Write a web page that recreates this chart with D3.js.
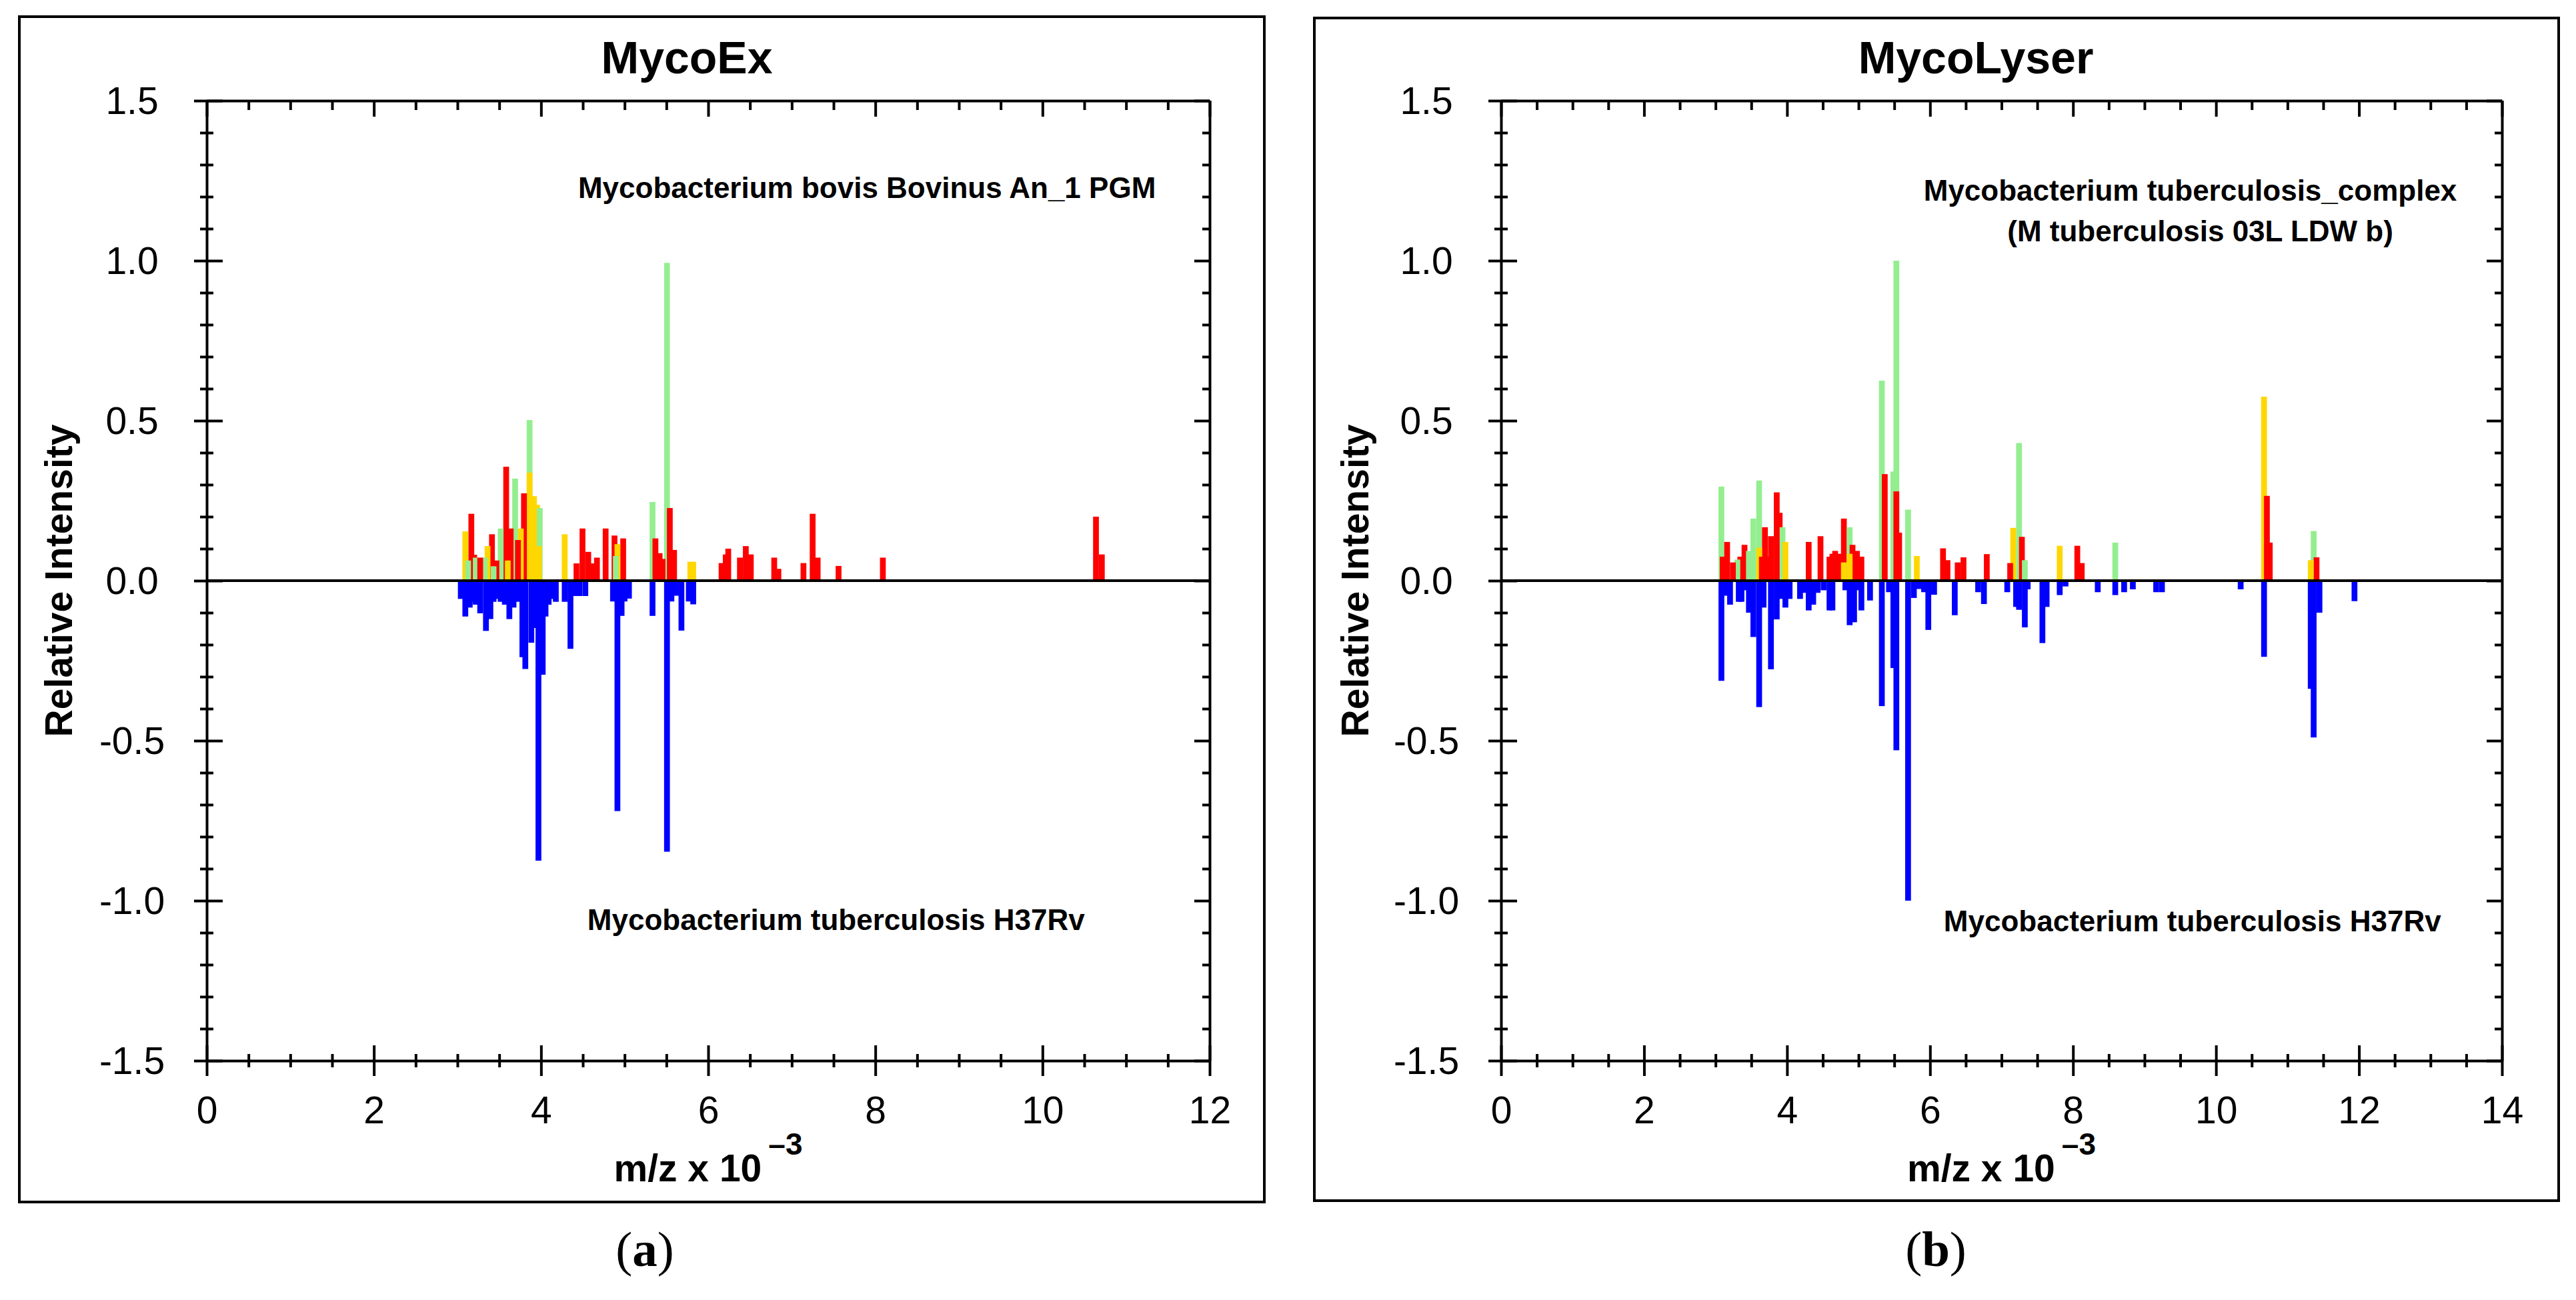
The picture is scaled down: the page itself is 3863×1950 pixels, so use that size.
<!DOCTYPE html>
<html>
<head>
<meta charset="utf-8">
<script src="https://cdnjs.cloudflare.com/ajax/libs/d3/7.8.5/d3.min.js"></script>
<style>
body { margin: 0; background: #fff; }
svg { display: block; }
</style>
</head>
<body>
<svg id="chart" width="3863" height="1950"></svg>
<script>
// ---- DATA: [m/z x 10^-3, relative intensity] ----
// (a) MycoEx : Mycobacterium bovis Bovinus An_1 PGM (up) vs M. tuberculosis H37Rv (down)
var exGreen = [[3.128,0.063],[3.219,0.072],[3.325,0.072],[3.432,0.045],[3.517,0.163],[3.690,0.319],
  [3.863,0.502],[3.985,0.227],[4.895,0.077],[5.334,0.246],[5.507,0.993]];
var exYellow = [[3.094,0.154],[3.360,0.108],[3.602,0.063],[3.758,0.163],[3.863,0.338],[3.916,0.264],
  [3.953,0.237],[3.975,0.108],[4.283,0.145],[4.914,0.114],[5.786,0.059],[5.821,0.059]];
var exRed = [[3.166,0.209],[3.200,0.081],[3.272,0.072],[3.413,0.145],[3.466,0.063],[3.583,0.356],
  [3.637,0.163],[3.724,0.127],[3.796,0.273],[4.424,0.054],[4.496,0.163],[4.565,0.090],[4.618,0.054],
  [4.669,0.072],[4.773,0.163],[4.879,0.141],[4.983,0.132],[5.369,0.132],[5.419,0.086],[5.454,0.068],
  [5.541,0.227],[5.592,0.096],[6.160,0.055],[6.210,0.082],[6.240,0.100],[6.380,0.072],[6.450,0.108],
  [6.510,0.082],[6.790,0.072],[6.840,0.037],[7.140,0.055],[7.250,0.209],[7.310,0.072],[7.560,0.046],
  [8.090,0.072],[10.640,0.200],[10.710,0.082]];
var exBlue = [[3.040,-0.057],[3.094,-0.112],[3.147,-0.084],[3.182,-0.066],[3.219,-0.075],[3.272,-0.102],
  [3.341,-0.157],[3.394,-0.120],[3.432,-0.066],[3.466,-0.057],[3.517,-0.066],[3.567,-0.075],[3.621,-0.120],
  [3.671,-0.084],[3.724,-0.066],[3.777,-0.239],[3.812,-0.276],[3.884,-0.194],[3.920,-0.148],[3.969,-0.875],
  [4.020,-0.294],[4.054,-0.112],[4.091,-0.075],[4.126,-0.057],[4.177,-0.066],[4.283,-0.066],[4.352,-0.213],
  [4.405,-0.048],[4.459,-0.048],[4.530,-0.048],[4.861,-0.065],[4.914,-0.720],[4.964,-0.110],[4.999,-0.065],
  [5.052,-0.056],[5.334,-0.110],[5.507,-0.847],[5.560,-0.065],[5.626,-0.047],[5.680,-0.156],[5.768,-0.065],
  [5.821,-0.074]];

// (b) MycoLyser : M. tuberculosis_complex (M tuberculosis 03L LDW b) (up) vs M. tuberculosis H37Rv (down)
var lyGreen = [[3.082,0.294],[3.305,0.066],[3.467,0.093],[3.529,0.194],[3.610,0.313],[3.937,0.167],
  [4.876,0.167],[5.326,0.625],[5.487,0.341],[5.529,1.000],[5.693,0.222],[7.245,0.430],[7.326,0.064],
  [8.591,0.119],[11.366,0.155]];
var lyYellow = [[3.610,0.103],[3.977,0.121],[4.795,0.057],[4.876,0.084],[5.815,0.077],[7.164,0.165],
  [7.814,0.109],[10.672,0.575],[11.325,0.064]];
var lyRed = [[3.100,0.075],[3.162,0.121],[3.243,0.057],[3.346,0.075],[3.405,0.112],[3.648,0.075],
  [3.691,0.167],[3.732,0.075],[3.775,0.139],[3.856,0.276],[3.897,0.212],[4.303,0.121],[4.468,0.139],
  [4.594,0.075],[4.635,0.084],[4.673,0.093],[4.716,0.084],[4.795,0.194],[4.916,0.112],[4.978,0.093],
  [5.040,0.075],[5.367,0.333],[5.529,0.279],[5.568,0.150],[6.182,0.101],[6.244,0.064],[6.387,0.057],
  [6.468,0.073],[6.794,0.083],[7.121,0.055],[7.285,0.137],[8.060,0.109],[8.122,0.055],[10.712,0.265],
  [10.752,0.119],[11.406,0.073]];
var lyBlue = [[3.082,-0.313],[3.141,-0.047],[3.203,-0.075],[3.325,-0.066],[3.363,-0.066],[3.426,-0.030],
  [3.467,-0.100],[3.529,-0.176],[3.610,-0.395],[3.672,-0.084],[3.775,-0.277],[3.856,-0.121],[3.918,-0.057],
  [3.977,-0.084],[4.036,-0.057],[4.182,-0.057],[4.244,-0.038],[4.303,-0.093],[4.366,-0.075],[4.428,-0.038],
  [4.512,-0.030],[4.594,-0.093],[4.635,-0.093],[4.816,-0.030],[4.876,-0.139],[4.938,-0.130],[4.978,-0.030],
  [5.040,-0.093],[5.161,-0.062],[5.326,-0.392],[5.426,-0.036],[5.487,-0.273],[5.529,-0.530],[5.693,-1.000],
  [5.774,-0.054],[5.836,-0.026],[5.917,-0.036],[5.976,-0.154],[6.057,-0.044],[6.346,-0.108],[6.673,-0.036],
  [6.754,-0.073],[7.080,-0.036],[7.204,-0.082],[7.245,-0.091],[7.326,-0.146],[7.366,-0.027],[7.572,-0.195],
  [7.631,-0.082],[7.814,-0.045],[7.895,-0.018],[8.346,-0.036],[8.591,-0.045],[8.715,-0.036],[8.837,-0.027],
  [9.163,-0.036],[9.244,-0.036],[10.345,-0.027],[10.672,-0.238],[11.325,-0.338],[11.366,-0.490],
  [11.447,-0.100],[11.937,-0.064]];

// tick labels
var yMajor = [-1.5, -1.0, -0.5, 0.0, 0.5, 1.0, 1.5];
var xMajorA = [0, 2, 4, 6, 8, 10, 12];
var xMajorB = [0, 2, 4, 6, 8, 10, 12, 14];

var SANS = "'Liberation Sans', Arial, Helvetica, sans-serif";
var SERIF = "'Liberation Serif', 'Times New Roman', serif";
var GREEN = "#94ee90", YELLOW = "#ffd700", RED = "#ff0000", BLUE = "#0000ff";
var BAR_W = 8.7;

var svg = d3.select("#chart");

function styleAxis(g) {
	g.attr("font-family", null).attr("font-size", null);
	g.selectAll(".domain").attr("stroke", "#000").attr("stroke-width", 4);
	g.selectAll(".tick line").attr("stroke", "#000").attr("stroke-width", 4);
}

function minorOf(major, step, max, min) {
	var out = [];
	for (var v = min; v <= max + 1e-9; v += step) {
		var r = Math.round(v * 10) / 10;
		if (major.indexOf(r) < 0) out.push(r);
	}
	return out;
}

function drawPanel(p) {
	var g = svg.append("g");

	// frame
	g.append("rect")
		.attr("x", p.frame[0]).attr("y", p.frame[1])
		.attr("width", p.frame[2]).attr("height", p.frame[3])
		.attr("fill", "none").attr("stroke", "#000").attr("stroke-width", 4);

	var x = d3.scaleLinear().domain([0, p.xMax]).range([p.left, p.right]);
	var y = d3.scaleLinear().domain([-1.5, 1.5]).range([p.bottom, p.top]);

	var xMinor = minorOf(p.xMajor, 0.5, p.xMax, 0);
	var yMinor = minorOf(yMajor, 0.1, 1.5, -1.5);

	// bars: tallest first so the small peaks stay visible
	var bars = [];
	p.series.forEach(function (s) {
		s.data.forEach(function (d) {
			bars.push({ mz: d[0], v: d[1], color: s.color });
		});
	});
	bars.sort(function (a, b) { return Math.abs(b.v) - Math.abs(a.v); });

	g.append("g").selectAll("rect")
		.data(bars)
		.enter().append("rect")
		.attr("x", function (d) { return x(d.mz) - BAR_W / 2; })
		.attr("y", function (d) { return y(Math.max(0, d.v)); })
		.attr("width", BAR_W)
		.attr("height", function (d) { return Math.abs(y(d.v) - y(0)); })
		.attr("fill", function (d) { return d.color; });

	// zero line
	g.append("line")
		.attr("x1", p.left).attr("x2", p.right)
		.attr("y1", y(0)).attr("y2", y(0))
		.attr("stroke", "#000").attr("stroke-width", 4);

	// bottom axis
	var gb = g.append("g").attr("transform", "translate(0," + p.bottom + ")")
		.call(d3.axisBottom(x).tickValues(p.xMajor).tickSize(23).tickSizeOuter(0)
			.tickFormat(function (d) { return d; }));
	gb.selectAll(".tick line").attr("y1", -23);
	gb.selectAll(".tick text").attr("y", 74).attr("dy", "0.35em")
		.attr("font-family", SANS).attr("font-size", 57).attr("fill", "#000");
	styleAxis(gb);
	var gbm = g.append("g").attr("transform", "translate(0," + p.bottom + ")")
		.call(d3.axisBottom(x).tickValues(xMinor).tickSize(10).tickFormat(""));
	gbm.select(".domain").remove();
	gbm.selectAll(".tick line").attr("y1", -10);
	styleAxis(gbm);

	// top axis (inward ticks)
	var gt = g.append("g").attr("transform", "translate(0," + p.top + ")")
		.call(d3.axisTop(x).tickValues(p.xMajor).tickSize(-24).tickSizeOuter(0).tickFormat(""));
	styleAxis(gt);
	var gtm = g.append("g").attr("transform", "translate(0," + p.top + ")")
		.call(d3.axisTop(x).tickValues(xMinor).tickSize(-14).tickFormat(""));
	gtm.select(".domain").remove();
	styleAxis(gtm);

	// left axis
	var gl = g.append("g").attr("transform", "translate(" + p.left + ",0)")
		.call(d3.axisLeft(y).tickValues(yMajor).tickSize(19).tickSizeOuter(0)
			.tickFormat(function (d) { return d.toFixed(1); }));
	gl.selectAll(".tick line").attr("x1", 24);
	gl.selectAll(".tick text").attr("x", -112).attr("dy", "0.35em")
		.attr("text-anchor", "middle")
		.attr("font-family", SANS).attr("font-size", 57).attr("fill", "#000");
	styleAxis(gl);
	var glm = g.append("g").attr("transform", "translate(" + p.left + ",0)")
		.call(d3.axisLeft(y).tickValues(yMinor).tickSize(10).tickFormat(""));
	glm.select(".domain").remove();
	glm.selectAll(".tick line").attr("x1", 10);
	styleAxis(glm);

	// right axis (inward ticks)
	var gr = g.append("g").attr("transform", "translate(" + p.right + ",0)")
		.call(d3.axisRight(y).tickValues(yMajor).tickSize(-23).tickSizeOuter(0).tickFormat(""));
	styleAxis(gr);
	var grm = g.append("g").attr("transform", "translate(" + p.right + ",0)")
		.call(d3.axisRight(y).tickValues(yMinor).tickSize(-11).tickFormat(""));
	grm.select(".domain").remove();
	styleAxis(grm);

	// title
	g.append("text")
		.attr("x", p.titleX).attr("y", 110)
		.attr("text-anchor", "middle")
		.attr("font-family", SANS).attr("font-size", 68).attr("font-weight", "bold")
		.text(p.title);

	// y label
	g.append("text")
		.attr("transform", "translate(" + p.yLabelX + "," + ((p.top + p.bottom) / 2) + ") rotate(-90)")
		.attr("text-anchor", "middle").attr("dy", "0.35em")
		.attr("font-family", SANS).attr("font-size", 57).attr("font-weight", "bold")
		.text("Relative Intensity");

	// x label with superscript
	var xl = g.append("text")
		.attr("x", (p.left + p.right) / 2).attr("y", 1772)
		.attr("text-anchor", "middle")
		.attr("font-family", SANS).attr("font-weight", "bold");
	xl.append("tspan").attr("font-size", 57).text("m/z x 10");
	xl.append("tspan").attr("font-size", 46).attr("dx", 10).attr("dy", -40).text("\u20133");

	// spectrum names
	p.notes.forEach(function (n) {
		g.append("text")
			.attr("x", x(n.mz)).attr("y", y(n.v))
			.attr("text-anchor", "middle").attr("dy", "0.35em")
			.attr("font-family", SANS).attr("font-size", 44).attr("font-weight", "bold")
			.text(n.text);
	});

	// panel caption
	var cap = g.append("text")
		.attr("x", p.captionX).attr("y", 1899)
		.attr("text-anchor", "middle")
		.attr("font-family", SERIF).attr("font-size", 75);
	cap.append("tspan").text("(");
	cap.append("tspan").attr("font-weight", "bold").text(p.caption);
	cap.append("tspan").text(")");
}

drawPanel({
	frame: [29, 25, 1867, 1778],
	left: 310, right: 1814, top: 151, bottom: 1591,
	xMax: 12, xMajor: xMajorA,
	title: "MycoEx", titleX: 1030,
	yLabelX: 88,
	caption: "a", captionX: 967,
	series: [
		{ color: GREEN, data: exGreen },
		{ color: YELLOW, data: exYellow },
		{ color: RED, data: exRed },
		{ color: BLUE, data: exBlue }
	],
	notes: [
		{ text: "Mycobacterium bovis Bovinus An_1 PGM", mz: 7.90, v: 1.227 },
		{ text: "Mycobacterium tuberculosis H37Rv", mz: 7.53, v: -1.06 }
	]
});

drawPanel({
	frame: [1971, 27, 1866, 1774],
	left: 2251, right: 3752, top: 151, bottom: 1591,
	xMax: 14, xMajor: xMajorB,
	title: "MycoLyser", titleX: 2963,
	yLabelX: 2032,
	caption: "b", captionX: 2903,
	series: [
		{ color: GREEN, data: lyGreen },
		{ color: YELLOW, data: lyYellow },
		{ color: RED, data: lyRed },
		{ color: BLUE, data: lyBlue }
	],
	notes: [
		{ text: "Mycobacterium tuberculosis_complex", mz: 9.64, v: 1.219 },
		{ text: "(M tuberculosis 03L LDW b)", mz: 9.78, v: 1.092 },
		{ text: "Mycobacterium tuberculosis H37Rv", mz: 9.67, v: -1.063 }
	]
});
</script>
</body>
</html>
